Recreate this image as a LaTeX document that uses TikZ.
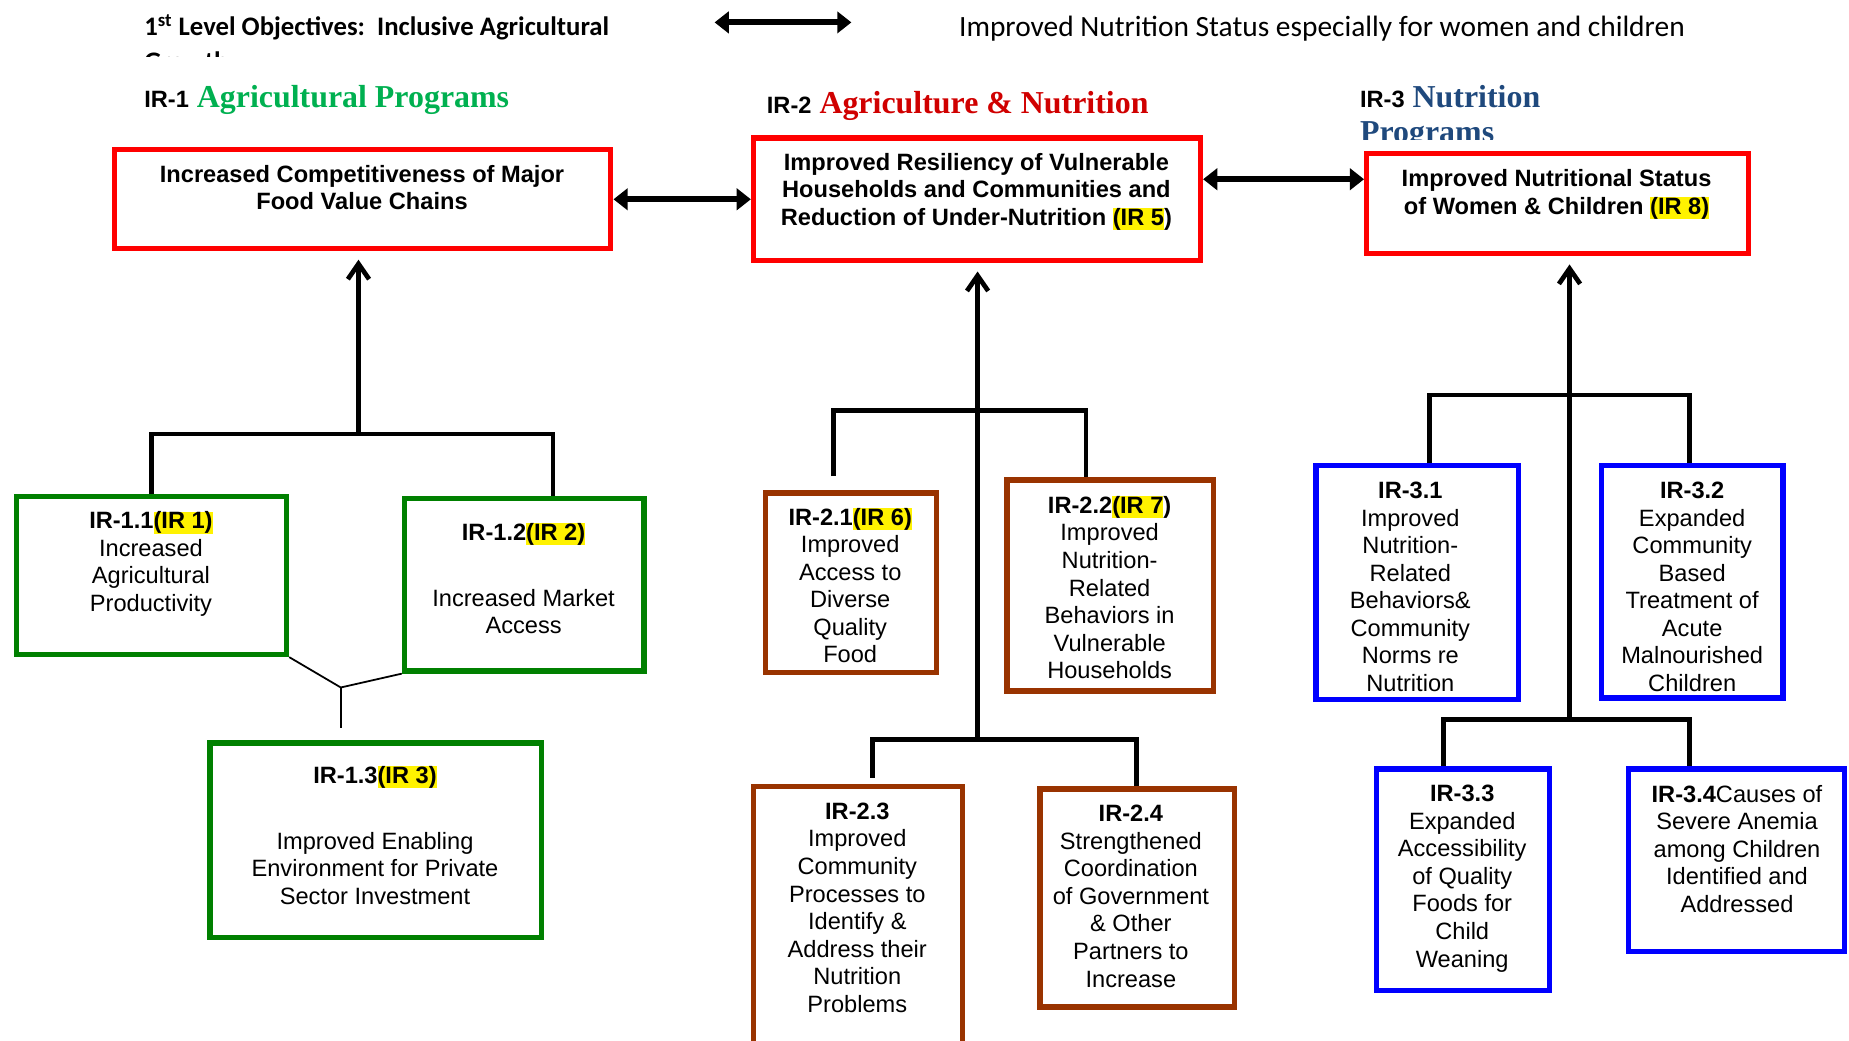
\documentclass[tikz,border=0pt]{standalone}
\usepackage{fontspec}
\setmainfont{Liberation Serif}
\setsansfont{Liberation Sans}
\newfontfamily\calibri{Carlito}
\usepackage{xcolor}
\usetikzlibrary{arrows.meta,positioning,fit}

\definecolor{irred}{HTML}{FF0000}
\definecolor{irgreen}{HTML}{008000}
\definecolor{irbrown}{HTML}{993300}
\definecolor{irblue}{HTML}{0000FF}
\definecolor{aggreen}{HTML}{00B050}
\definecolor{nutred}{HTML}{D00000}
\definecolor{progblue}{HTML}{1F497D}

\newcommand{\irhl}[1]{{\setlength{\fboxsep}{0pt}\colorbox{yellow}{\vphantom{(}#1}}}

\tikzset{
  irbox/.style={draw, line width=0.09cm, inner sep=0pt},
  redbox/.style={irbox, draw=irred},
  greenbox/.style={irbox, draw=irgreen},
  brownbox/.style={irbox, draw=irbrown},
  bluebox/.style={irbox, draw=irblue},
  txt/.style={font=\sffamily\fontsize{11.4}{13.3}\selectfont, align=center, inner sep=0pt, anchor=north},
  head/.style={font=\rmfamily\bfseries\fontsize{15.4}{17}\selectfont, inner sep=0pt, anchor=base west},
  goal/.style={font=\calibri\fontsize{14.2}{17}\selectfont, inner sep=0pt, anchor=base west, align=left},
  tree/.style={line width=0.08cm},
  thinline/.style={line width=0.03cm},
  uparrow/.style={tree, -{Straight Barb[length=0.26cm,width=0.36cm]}, shorten >=0.14cm},
  dblarrow/.style={line width=0.1cm, {Triangle[length=0.24cm,width=0.36cm]}-{Triangle[length=0.24cm,width=0.36cm]}}
}

\begin{document}
\begin{tikzpicture}[x=0.02cm,y=-0.02cm]
\useasboundingbox (0,0) rectangle (1568,882);

% header
\begin{scope}
\clip (100,0) rectangle (700,48);
\node[goal, font=\calibri\bfseries\fontsize{12.9}{17}\selectfont] (goal1) at (122,60) {1\textsuperscript{st} Level Objectives:\ \ Inclusive Agricultural\\Growth};
\end{scope}
\node[goal] (goal2) at (813,31) {Improved Nutrition Status especially for women and children};
\coordinate (ga) at (606,19);
\coordinate (gb) at (722,19);
\draw[dblarrow] (ga) -- (gb);

% column headings
\node[head] (h1) at (122,91) {{\sffamily\fontsize{11.4}{13}\selectfont IR-1} \textcolor{aggreen}{Agricultural Programs}};
\node[head] (h2) at (650,96) {{\sffamily\fontsize{11.4}{13}\selectfont IR-2} \textcolor{nutred}{Agriculture \& Nutrition}};
\begin{scope}
\clip (1140,55) rectangle (1400,118);
\node[head, align=left] (h3) at (1153,121) {{\sffamily\fontsize{11.4}{13}\selectfont IR-3} \textcolor{progblue}{Nutrition}\\\textcolor{progblue}{Programs}};
\end{scope}

% top level
\node[redbox, fit={(97,127) (518,211)}] (top1) {};
\node[redbox, fit={(639,117) (1018,221)}] (top2) {};
\node[redbox, fit={(1159,130) (1483,215)}] (top3) {};
\node[txt, font=\sffamily\bfseries\fontsize{11.4}{13.3}\selectfont] (top1t) at (307,139.5) {Increased Competitiveness of Major\\Food Value Chains};
\node[txt, font=\sffamily\bfseries\fontsize{11.4}{13.3}\selectfont] (top2t) at (828,129.5) {Improved Resiliency of Vulnerable\\Households and Communities and\\Reduction of Under-Nutrition \irhl{(IR 5})};
\node[txt, font=\sffamily\bfseries\fontsize{11.4}{13.3}\selectfont] (top3t) at (1320,143.5) {Improved Nutritional Status\\of Women \& Children \irhl{(IR 8)}};

\draw[dblarrow] (top1.east) -- (top2.west);
\draw[dblarrow] (top2.east |- 0,152) -- (top3.west |- 0,152);

% IR-1
\node[greenbox, fit={(14,421) (243,555)}] (ir11) {};
\node[greenbox, fit={(343,423) (546,569)}] (ir12) {};
\node[greenbox, fit={(178,630) (459,795)}] (ir13) {};
\node[txt] (ir11t) at (128,433.5) {{\bfseries IR-1.1\irhl{(IR 1)}}\\Increased\\Agricultural\\Productivity};
\node[txt] (ir12t) at (444,443.5) {{\bfseries IR-1.2\irhl{(IR 2)}}\\[0.65cm]Increased Market\\Access};
\node[txt] (ir13t) at (318,649.5) {{\bfseries IR-1.3\irhl{(IR 3)}}\\[0.65cm]Improved Enabling\\Environment for Private\\Sector Investment};

\coordinate (j1) at (304,368);
\coordinate (k12) at (469,368);
\coordinate (j13) at (289,583);
\draw[tree] (ir11.north) |- (k12) -- (ir12.north -| k12);
\draw[uparrow] (j1) -- (top1.south -| j1);
\draw[thinline] (ir11.south east) -- (j13) -- (ir12.south west);
\draw[thinline, shorten >=0.2cm] (j13) -- (ir13.north -| j13);

% IR-2
\node[brownbox, fit={(649,418) (794,570)}] (ir21) {};
\node[brownbox, fit={(854,407) (1029,586)}] (ir22) {};
\node[brownbox, fit={(639,667) (816,886)}] (ir23) {};
\node[brownbox, fit={(882,669) (1047,854)}] (ir24) {};
\node[txt] (ir21t) at (721,430.5) {{\bfseries IR-2.1\irhl{(IR 6)}}\\Improved\\Access to\\Diverse\\Quality\\Food};
\node[txt] (ir22t) at (941,420.5) {{\bfseries IR-2.2\irhl{(IR 7})}\\Improved\\Nutrition-\\Related\\Behaviors in\\Vulnerable\\Households};
\node[txt] (ir23t) at (727,680.5) {{\bfseries IR-2.3}\\Improved\\Community\\Processes to\\Identify \&\\Address their\\Nutrition\\Problems};
\node[txt] (ir24t) at (959,682.5) {{\bfseries IR-2.4}\\Strengthened\\Coordination\\of Government\\\& Other\\Partners to\\Increase};

\coordinate (j2a) at (829,348);
\coordinate (j2b) at (829,627);
\coordinate (k21) at (707,348);
\coordinate (k22) at (921,348);
\coordinate (k23) at (740,627);
\coordinate (k24) at (964,627);
\draw[tree, shorten <=0.24cm] (ir21.north -| k21) -- (k21) -- (k22) -- (ir22.north -| k22);
\draw[tree, shorten <=0.1cm] (ir23.north -| k23) -- (k23) -- (k24) -- (ir24.north -| k24);
\draw[uparrow] (j2b) -- (top2.south -| j2b);

% IR-3
\node[bluebox, fit={(1116,395) (1288,593)}] (ir31) {};
\node[bluebox, fit={(1358,395) (1512,592)}] (ir32) {};
\node[bluebox, fit={(1167,652) (1314,840)}] (ir33) {};
\node[bluebox, fit={(1381,652) (1564,807)}] (ir34) {};
\node[txt] (ir31t) at (1196,408.5) {{\bfseries IR-3.1}\\Improved\\Nutrition-\\Related\\Behaviors\&\\Community\\Norms re\\Nutrition};
\node[txt] (ir32t) at (1435,408.5) {{\bfseries IR-3.2}\\Expanded\\Community\\Based\\Treatment of\\Acute\\Malnourished\\Children};
\node[txt] (ir33t) at (1240,665.5) {{\bfseries IR-3.3}\\Expanded\\Accessibility\\of Quality\\Foods for\\Child\\Weaning};
\node[txt] (ir34t) at (1473,665.5) {{\bfseries IR-3.4}Causes of\\Severe Anemia\\among Children\\Identified and\\Addressed};

\coordinate (j3a) at (1331,335);
\coordinate (j3b) at (1331,610);
\coordinate (k31) at (1212,335);
\coordinate (k32) at (1433,335);
\coordinate (k33) at (1224,610);
\coordinate (k34) at (1433,610);
\draw[tree] (ir31.north -| k31) -- (k31) -- (k32) -- (ir32.north -| k32);
\draw[tree] (ir33.north -| k33) -- (k33) -- (k34) -- (ir34.north -| k34);
\draw[uparrow] (j3b) -- (top3.south -| j3b);

\end{tikzpicture}
\end{document}
